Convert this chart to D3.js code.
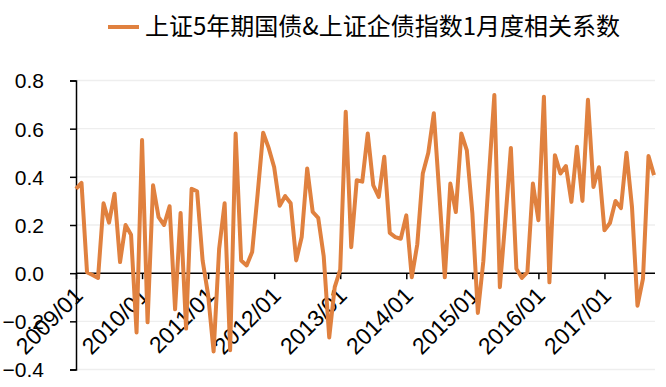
<!DOCTYPE html>
<html>
<head>
<meta charset="utf-8">
<script src="https://cdn.jsdelivr.net/npm/d3@7"></script>
<style>
  body { margin: 0; background: #fff; }
  text { font-family: "Liberation Sans", Arial, sans-serif; fill: #000; }
  .title { font-family: "Noto Sans CJK SC", sans-serif; }
</style>
</head>
<body>
<div id="chart"></div>
<script>
// series name
var seriesName = "上证5年期国债&上证企债指数1月度相关系数";

// months 2009/01 .. 2017/10
var months = d3.timeMonth.range(new Date(2009, 0, 1), new Date(2017, 10, 1))
  .map(d3.timeFormat("%Y/%m"));

// monthly correlation
var corr = [
  0.35, 0.375, 0.004, -0.008, -0.02, 0.29, 0.21, 0.33, 0.046, 0.20, 0.16, -0.246,
  0.553, -0.204, 0.365, 0.233, 0.20, 0.278, -0.15, 0.25, -0.23, 0.35, 0.34, 0.053,
  -0.09, -0.325, 0.10, 0.29, -0.32, 0.58, 0.053, 0.032, 0.088, 0.33, 0.583, 0.52,
  0.44, 0.28, 0.32, 0.29, 0.053, 0.15, 0.435, 0.254, 0.23, 0.07, -0.267, -0.058,
  0.015, 0.67, 0.108, 0.386, 0.38, 0.58, 0.365, 0.317, 0.483, 0.167, 0.15, 0.143,
  0.24, -0.017, 0.12, 0.414, 0.50, 0.664, 0.33, -0.017, 0.372, 0.254, 0.58, 0.51,
  0.25, -0.165, 0.05, 0.40, 0.74, -0.058, 0.22, 0.52, 0.018, -0.02, 0.004, 0.372,
  0.22, 0.733, -0.038, 0.49, 0.414, 0.445, 0.296, 0.525, 0.30, 0.72, 0.358, 0.44,
  0.178, 0.208, 0.30, 0.27, 0.50, 0.275, -0.135, -0.023, 0.486, 0.407
];

var yTicks = [-0.4, -0.2, 0, 0.2, 0.4, 0.6, 0.8];
var xTicks = months.filter(function (m) { return m.slice(5) === "01"; });

var width = 666, height = 387;
var color = "#E0813F";

var svg = d3.select("#chart").append("svg")
  .attr("width", width)
  .attr("height", height);

var x = d3.scalePoint().domain(months).range([76, 654]);
var y = d3.scaleLinear().domain([-0.4, 0.8]).range([369.5, 80.5]);

// gridlines
svg.append("g")
  .selectAll("line")
  .data(yTicks.filter(function (d) { return d !== 0; }))
  .enter().append("line")
  .attr("x1", 76).attr("x2", 655)
  .attr("y1", function (d) { return y(d); })
  .attr("y2", function (d) { return y(d); })
  .attr("stroke", "#eeeeee")
  .attr("stroke-width", 1.3);

// y axis
var yAxis = svg.append("g")
  .attr("transform", "translate(76,0)")
  .call(d3.axisLeft(y).tickValues(yTicks).tickSize(6).tickPadding(26)
    .tickFormat(d3.format(".1f")));
yAxis.select(".domain").attr("stroke", "#000").attr("stroke-width", 1.5);
yAxis.selectAll(".tick line").attr("stroke", "#000").attr("stroke-width", 1.5);
yAxis.selectAll("text")
  .style("font-size", "21px")
  .style("font-family", "Liberation Sans, Arial, sans-serif")
  .attr("fill", "#000")
  .attr("dy", "0.35em");

// x axis at zero
var xAxis = svg.append("g")
  .attr("transform", "translate(0," + y(0) + ")")
  .call(d3.axisBottom(x).tickValues(xTicks).tickSize(6).tickSizeOuter(0));
xAxis.select(".domain").attr("d", "M76,0H655").attr("stroke", "#000").attr("stroke-width", 1.5);
xAxis.selectAll(".tick line").attr("stroke", "#000").attr("stroke-width", 1.5);
xAxis.selectAll("text")
  .style("font-size", "23px")
  .style("font-family", "Liberation Sans, Arial, sans-serif")
  .attr("fill", "#000")
  .attr("text-anchor", "end")
  .attr("x", 2)
  .attr("y", 18)
  .attr("dy", "0.35em")
  .attr("transform", "rotate(-45,2,18)");

// the series line
var line = d3.line()
  .x(function (d, i) { return x(months[i]); })
  .y(function (d) { return y(d); });

svg.append("path")
  .datum(corr)
  .attr("fill", "none")
  .attr("stroke", color)
  .attr("stroke-width", 4)
  .attr("stroke-linejoin", "round")
  .attr("d", line);

// legend
svg.append("line")
  .attr("x1", 108).attr("x2", 139)
  .attr("y1", 27).attr("y2", 27)
  .attr("stroke", color)
  .attr("stroke-width", 4);

svg.append("text")
  .attr("class", "title")
  .attr("x", 145)
  .attr("y", 27)
  .attr("dy", "0.35em")
  .style("font-size", "24px")
  .text(seriesName);
</script>
</body>
</html>
